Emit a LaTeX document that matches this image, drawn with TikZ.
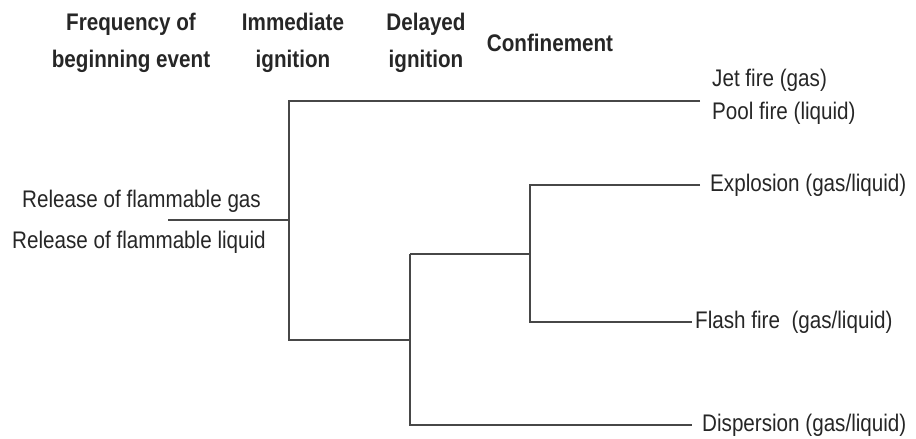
\documentclass[tikz,border=0pt]{standalone}
\usepackage{fontspec}
\setmainfont{Liberation Sans}[FakeStretch=0.86]
\begin{document}
\begin{tikzpicture}[x=1pt,y=-1pt,
  branch/.style={draw=black!72,line width=1.4pt},
  outcome/.style={anchor=west,inner sep=0pt,text=black!85,font=\fontsize{24}{30}\selectfont},
  source/.style={anchor=west,inner sep=0pt,text=black!85,font=\fontsize{24}{30}\selectfont},
  header/.style={align=center,inner sep=0pt,text=black!85,font=\fontsize{24}{37}\selectfont\bfseries}]
\useasboundingbox (0,0) rectangle (916,439);

% column headings
\node[header] (hfreq) at (131,43) {Frequency of\\beginning event};
\node[header] (himm)  at (293,43) {Immediate\\ignition};
\node[header] (hdel)  at (426,43) {Delayed\\ignition};
\node[header] (hconf) at (550,43) {Confinement};

% initiating event
\node[source] (gas) at (22,201) {Release of flammable gas};
\node[source] (liq) at (12,242) {Release of flammable liquid};

% outcomes
\node[outcome] (jet)   at (712,80)  {Jet fire (gas)};
\node[outcome] (pool)  at (712,113) {Pool fire (liquid)};
\node[outcome] (expl)  at (710,185) {Explosion (gas/liquid)};
\node[outcome] (flash) at (695,322) {Flash fire\ \ (gas/liquid)};
\node[outcome] (disp)  at (702,425) {Dispersion (gas/liquid)};

% branch points
\coordinate (start) at (168,220);
\coordinate (n1) at (289,220);
\coordinate (n2) at (410,340);
\coordinate (n3) at (530,254);
\coordinate (fireend) at (700,101);

% event tree
\draw[branch] (start) -- (n1);
\draw[branch] (fireend) -| (n1) |- (n2);
\draw[branch] (n2 |- n3) -- (n3);
\draw[branch] (n2 |- n3) -- (n2 |- disp.west) -- ([xshift=-10pt]disp.west);
\draw[branch] ([xshift=-10pt]expl.west) -| (n3 |- expl.west) -- (n3 |- flash.west) -- ([xshift=-3pt]flash.west);
\end{tikzpicture}
\end{document}
